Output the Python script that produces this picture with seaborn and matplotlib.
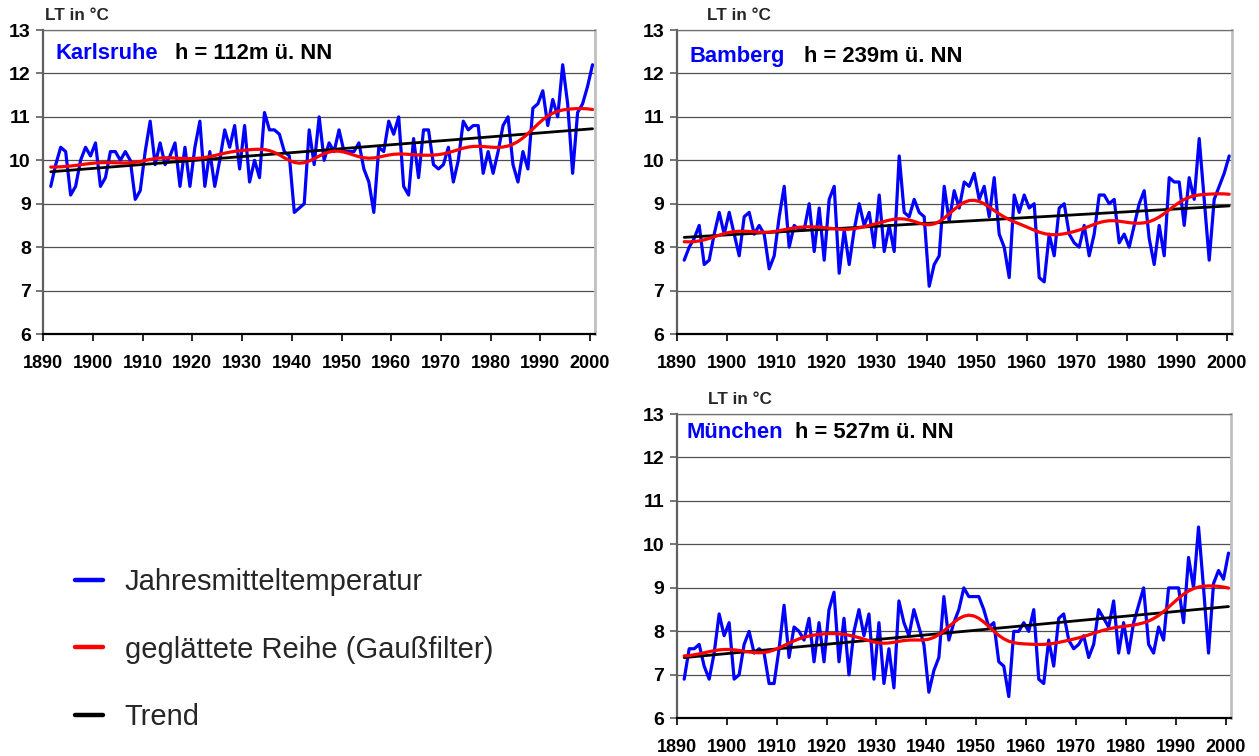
import numpy as np
import pandas as pd
import matplotlib
matplotlib.use("Agg")
import matplotlib.pyplot as plt
from matplotlib.lines import Line2D
import seaborn as sns

# Annual mean air temperature (LT, °C), 1891-2000
years = list(range(1891, 2001))

karlsruhe = [
    9.4, 9.9, 10.3, 10.2, 9.2, 9.4, 10.0, 10.3, 10.1, 10.4,
    9.4, 9.6, 10.2, 10.2, 10.0, 10.2, 10.0, 9.1, 9.3, 10.2,
    10.9, 9.9, 10.4, 9.9, 10.1, 10.4, 9.4, 10.3, 9.4, 10.3,
    10.9, 9.4, 10.2, 9.4, 10.0, 10.7, 10.3, 10.8, 9.8, 10.8,
    9.5, 10.0, 9.6, 11.1, 10.7, 10.7, 10.6, 10.2, 10.1, 8.8,
    8.9, 9.0, 10.7, 9.9, 11.0, 10.0, 10.4, 10.2, 10.7, 10.2,
    10.2, 10.2, 10.4, 9.8, 9.5, 8.8, 10.3, 10.2, 10.9, 10.6,
    11.0, 9.4, 9.2, 10.5, 9.6, 10.7, 10.7, 9.9, 9.8, 9.9,
    10.3, 9.5, 10.0, 10.9, 10.7, 10.8, 10.8, 9.7, 10.2, 9.7,
    10.2, 10.8, 11.0, 9.9, 9.5, 10.2, 9.8, 11.2, 11.3, 11.6,
    10.8, 11.4, 11.0, 12.2, 11.3, 9.7, 11.1, 11.3, 11.7, 12.2,
]

bamberg = [
    7.7, 8.0, 8.2, 8.5, 7.6, 7.7, 8.3, 8.8, 8.3, 8.8,
    8.3, 7.8, 8.7, 8.8, 8.3, 8.5, 8.3, 7.5, 7.8, 8.7,
    9.4, 8.0, 8.5, 8.4, 8.4, 9.0, 7.9, 8.9, 7.7, 9.1,
    9.4, 7.4, 8.4, 7.6, 8.4, 9.0, 8.5, 8.8, 8.0, 9.2,
    7.9, 8.5, 7.9, 10.1, 8.8, 8.7, 9.1, 8.8, 8.7, 7.1,
    7.6, 7.8, 9.4, 8.6, 9.3, 8.9, 9.5, 9.4, 9.7, 9.1,
    9.4, 8.7, 9.6, 8.3, 8.0, 7.3, 9.2, 8.8, 9.2, 8.9,
    9.0, 7.3, 7.2, 8.3, 7.8, 8.9, 9.0, 8.3, 8.1, 8.0,
    8.5, 7.8, 8.3, 9.2, 9.2, 9.0, 9.1, 8.1, 8.3, 8.0,
    8.5, 9.0, 9.3, 8.2, 7.6, 8.5, 7.8, 9.6, 9.5, 9.5,
    8.5, 9.6, 9.1, 10.5, 9.1, 7.7, 9.1, 9.4, 9.7, 10.1,
]

muenchen = [
    6.9, 7.6, 7.6, 7.7, 7.2, 6.9, 7.5, 8.4, 7.9, 8.2,
    6.9, 7.0, 7.7, 8.0, 7.5, 7.6, 7.5, 6.8, 6.8, 7.6,
    8.6, 7.4, 8.1, 8.0, 7.8, 8.3, 7.3, 8.2, 7.3, 8.5,
    8.9, 7.3, 8.3, 7.0, 8.0, 8.5, 7.9, 8.4, 6.9, 8.2,
    6.8, 7.6, 6.7, 8.7, 8.2, 7.9, 8.5, 8.1, 7.7, 6.6,
    7.1, 7.4, 8.8, 7.8, 8.2, 8.5, 9.0, 8.8, 8.8, 8.8,
    8.5, 8.1, 8.2, 7.3, 7.2, 6.5, 8.0, 8.0, 8.2, 8.0,
    8.5, 6.9, 6.8, 7.8, 7.2, 8.3, 8.4, 7.8, 7.6, 7.7,
    7.9, 7.4, 7.7, 8.5, 8.3, 8.1, 8.7, 7.5, 8.2, 7.5,
    8.2, 8.6, 9.0, 7.7, 7.5, 8.1, 7.8, 9.0, 9.0, 9.0,
    8.2, 9.7, 9.0, 10.4, 9.0, 7.5, 9.1, 9.4, 9.2, 9.8,
]

stations = ["Karlsruhe", "Bamberg", "München"]
heights = ["h = 112m ü. NN", "h = 239m ü. NN", "h = 527m ü. NN"]
series_labels = ["Jahresmitteltemperatur", "geglättete Reihe (Gaußfilter)", "Trend"]
series_colors = ["#0000FF", "#FF0000", "#000000"]
x_ticks = list(range(1890, 2001, 10))
y_ticks = list(range(6, 14))
y_label = "LT in °C"


def gauss_filter(values, sigma=3.8, edge_years=20):
    """Gaussian low-pass filter; beyond the record the series is continued
    with the mean of its first / last `edge_years` values."""
    v = np.asarray(values, dtype=float)
    half = int(np.ceil(3 * sigma))
    padded = np.pad(v, half, mode="mean", stat_length=edge_years)
    k = np.arange(-half, half + 1)
    w = np.exp(-0.5 * (k / sigma) ** 2)
    w /= w.sum()
    return np.convolve(padded, w, mode="valid")


def linear_trend(x, values):
    coef = np.polyfit(x, values, 1)
    return np.polyval(coef, x)


sns.set_theme(style="white")
plt.rcParams["font.family"] = ["Liberation Sans", "DejaVu Sans"]

W, H = 1259, 756
fig = plt.figure(figsize=(W / 100, H / 100), dpi=100)


def axes_px(left, top, right, bottom):
    return fig.add_axes([left / W, 1 - bottom / H, (right - left) / W, (bottom - top) / H])


panels = [
    # axes box (px), title x offsets (px from axes left), title y (px from axes top), unit label pos (px)
    dict(box=(43.3, 30, 595, 334), name_dx=12, h_dx=132, title_dy=23, unit=(45, 16)),
    dict(box=(676.7, 30, 1231.7, 334), name_dx=13, h_dx=127, title_dy=26, unit=(707, 15)),
    dict(box=(676.7, 414, 1231, 718.3), name_dx=10, h_dx=118, title_dy=18, unit=(708, 399)),
]
data = [karlsruhe, bamberg, muenchen]

# annual means plotted at mid-year
x_pos = np.asarray(years, dtype=float) + 0.5

for p, vals, name, height in zip(panels, data, stations, heights):
    l, t, r, b = p["box"]
    ax = axes_px(l, t, r, b)
    df = pd.DataFrame({
        "Jahr": x_pos,
        "LT": vals,
        "Gauss": gauss_filter(vals),
        "Trend": linear_trend(np.asarray(years, float), vals),
    })
    sns.lineplot(data=df, x="Jahr", y="LT", ax=ax, color=series_colors[0], lw=2.3, zorder=3)
    sns.lineplot(data=df, x="Jahr", y="Trend", ax=ax, color=series_colors[2], lw=2.0, zorder=4)
    sns.lineplot(data=df, x="Jahr", y="Gauss", ax=ax, color=series_colors[1], lw=2.3, zorder=5)

    ax.set_xlim(1890, 2001)
    ax.set_ylim(6, 13)
    ax.set_xticks(x_ticks)
    ax.set_yticks(y_ticks)
    ax.set_xlabel("")
    ax.set_ylabel("")
    ax.grid(False)
    for yv in y_ticks[1:]:
        ax.axhline(yv, color="#505050", lw=0.9, zorder=1)

    ax.tick_params(axis="x", direction="out", length=5, width=1.2, color="black",
                   pad=10, labelsize=13)
    ax.tick_params(axis="y", direction="out", length=5, width=1.2, color="#606060",
                   pad=4, labelsize=14)
    ax.tick_params(bottom=True, left=True)
    for lab in ax.get_xticklabels() + ax.get_yticklabels():
        lab.set_fontweight("bold")
        lab.set_color("black")

    ax.spines["left"].set_color("#606060")
    ax.spines["left"].set_linewidth(1.6)
    ax.spines["bottom"].set_color("black")
    ax.spines["bottom"].set_linewidth(1.6)
    ax.spines["top"].set_color("#707070")
    ax.spines["top"].set_linewidth(0.9)
    ax.spines["right"].set_color("#c0c0c0")
    ax.spines["right"].set_linewidth(2.0)

    width_px, height_px = r - l, b - t
    ty = 1 - p["title_dy"] / height_px
    ax.text(p["name_dx"] / width_px, ty, name, transform=ax.transAxes, color="#0000FF",
            fontsize=15.8, fontweight="bold", va="center", ha="left", zorder=6)
    ax.text(p["h_dx"] / width_px, ty, height, transform=ax.transAxes, color="black",
            fontsize=15.8, fontweight="bold", va="center", ha="left", zorder=6)

    ux, uy = p["unit"]
    fig.text(ux / W, 1 - uy / H, y_label, fontsize=12.3, fontweight="bold",
             ha="left", va="center")

handles = [Line2D([], [], color=c, lw=3.2) for c in series_colors]
fig.legend(handles, series_labels, loc="upper left", bbox_to_anchor=(75 / W, 1 - 568 / H),
           frameon=False, fontsize=21, handlelength=0.95, handletextpad=0.75,
           labelspacing=1.36, borderpad=0, borderaxespad=0)

fig.savefig("out.png", dpi=100, facecolor="white")
